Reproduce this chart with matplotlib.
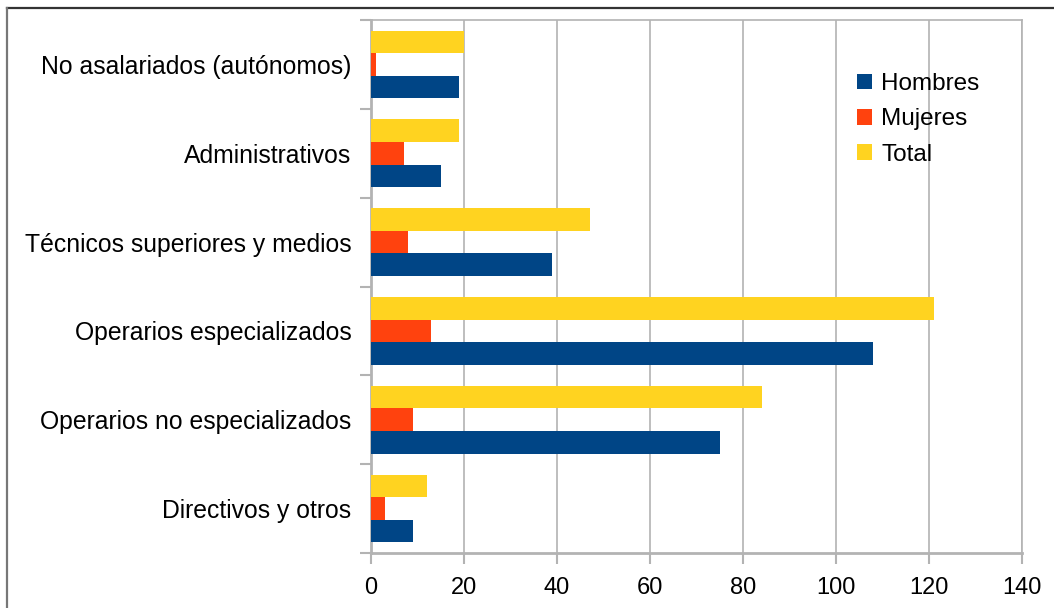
import matplotlib
matplotlib.use('Agg')
import matplotlib.pyplot as plt
from matplotlib.lines import Line2D
import numpy as np

# datos por categoría (de abajo hacia arriba)
categorias = ['Directivos y otros', 'Operarios no especializados',
              'Operarios especializados', 'Técnicos superiores y medios',
              'Administrativos', 'No asalariados (autónomos)']
hombres = [9, 75, 108, 39, 15, 19]
mujeres = [3, 9, 13, 8, 7, 1]
total = [12, 84, 121, 47, 19, 20]
series = ['Hombres', 'Mujeres', 'Total']
xticks = [0, 20, 40, 60, 80, 100, 120, 140]

plt.rcParams['font.family'] = ['Liberation Sans', 'DejaVu Sans']

col_h = '#004586'
col_m = '#ff420e'
col_t = '#ffd320'
gris = '#b3b3b3'

fig = plt.figure(figsize=(10.54, 6.08), dpi=100)
ax = fig.add_axes([371 / 1054, 1 - 553 / 608, 651 / 1054, 533 / 608])

y = np.arange(len(categorias))
h = 0.254
ax.barh(y - h, hombres, h, color=col_h, label=series[0], zorder=3)
ax.barh(y, mujeres, h, color=col_m, label=series[1], zorder=3)
ax.barh(y + h, total, h, color=col_t, label=series[2], zorder=3)

ax.set_xlim(0, 140)
ax.set_ylim(-0.5, len(categorias) - 0.5)
ax.set_xticks(xticks)
ax.set_yticks(y)
ax.set_yticklabels(categorias)
ax.set_yticks(np.arange(-0.5, len(categorias)), minor=True)

ax.grid(axis='x', color=gris, linewidth=1.2, zorder=0)
ax.tick_params(axis='x', length=8, width=1.5, color=gris, labelsize=17, pad=9)
ax.tick_params(axis='y', which='major', length=0, labelsize=17.8, pad=14)
ax.tick_params(axis='y', which='minor', length=8, width=1.5, color=gris)

for lado in ['left', 'bottom', 'top', 'right']:
    ax.spines[lado].set_color(gris)
    ax.spines[lado].set_linewidth(1.2)
ax.spines['left'].set_linewidth(2)
ax.spines['bottom'].set_linewidth(2)

ax.legend(loc='upper left', bbox_to_anchor=(857 / 1054, 1 - 73 / 608),
          bbox_transform=fig.transFigure, frameon=False, fontsize=17.5,
          handlelength=0.6, handleheight=0.6, handletextpad=0.4,
          labelspacing=0.55, borderpad=0, borderaxespad=0)

# marco exterior
fig.add_artist(Line2D([6.5 / 1054, 1], [1 - 8 / 608, 1 - 8 / 608],
                      transform=fig.transFigure, color='#333333', linewidth=1.6))
fig.add_artist(Line2D([6.5 / 1054, 6.5 / 1054], [0, 1 - 8 / 608],
                      transform=fig.transFigure, color='#777777', linewidth=1.6))

plt.savefig('out.png', dpi=100)
